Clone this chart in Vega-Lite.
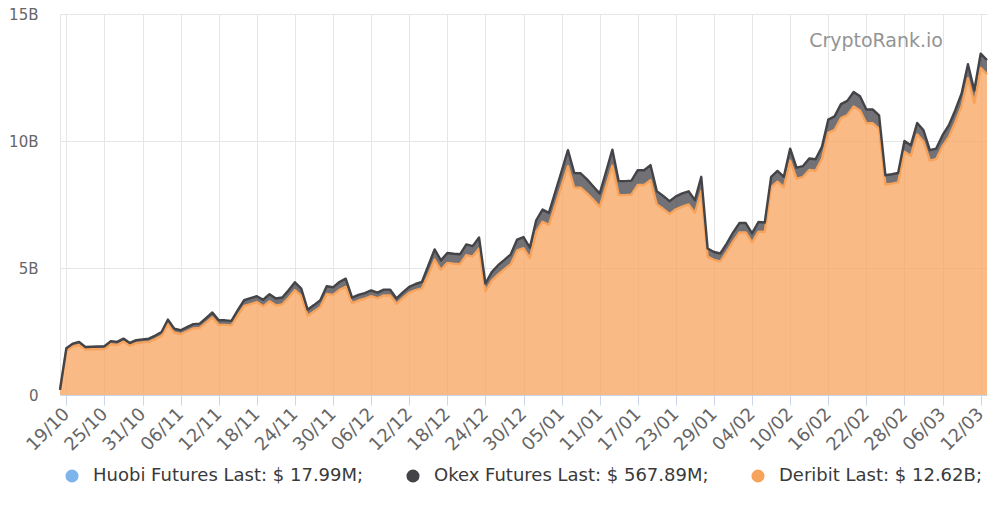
{
  "$schema": "https://vega.github.io/schema/vega-lite/v6.json",
  "width": 927,
  "height": 381,
  "autosize": {"type": "none"},
  "padding": {"left": 60, "top": 14, "right": 7, "bottom": 110},
  "background": "#ffffff",
  "title": {
    "text": "CryptoRank.io",
    "anchor": "end",
    "frame": "group",
    "offset": 0,
    "dx": -44,
    "dy": 59,
    "baseline": "alphabetic",
    "font": "DejaVu Sans",
    "fontSize": 19,
    "fontWeight": "normal",
    "color": "#949494"
  },
  "config": {
    "view": {"stroke": null},
    "axis": {"labelFont": "DejaVu Sans", "labelFontSize": 15, "labelColor": "#666666", "gridColor": "#e6e6e6", "title": null},
    "legend": {"labelFont": "DejaVu Sans"}
  },
  "data": {
    "values": [
      {"date": "2020-10-18", "Deribit": 0.2},
      {"date": "2020-10-19", "Huobi Futures": 0.015, "Okex Futures": 0.10, "Deribit": 1.74},
      {"date": "2020-10-20", "Huobi Futures": 0.015, "Okex Futures": 0.11, "Deribit": 1.91},
      {"date": "2020-10-21", "Huobi Futures": 0.015, "Okex Futures": 0.12, "Deribit": 1.97},
      {"date": "2020-10-22", "Huobi Futures": 0.015, "Okex Futures": 0.10, "Deribit": 1.79},
      {"date": "2020-10-23", "Huobi Futures": 0.015, "Okex Futures": 0.10, "Deribit": 1.80},
      {"date": "2020-10-24", "Huobi Futures": 0.015, "Okex Futures": 0.11, "Deribit": 1.80},
      {"date": "2020-10-25", "Huobi Futures": 0.015, "Okex Futures": 0.11, "Deribit": 1.81},
      {"date": "2020-10-26", "Huobi Futures": 0.015, "Okex Futures": 0.12, "Deribit": 2.00},
      {"date": "2020-10-27", "Huobi Futures": 0.015, "Okex Futures": 0.12, "Deribit": 1.97},
      {"date": "2020-10-28", "Huobi Futures": 0.015, "Okex Futures": 0.12, "Deribit": 2.10},
      {"date": "2020-10-29", "Huobi Futures": 0.015, "Okex Futures": 0.11, "Deribit": 1.94},
      {"date": "2020-10-30", "Huobi Futures": 0.015, "Okex Futures": 0.12, "Deribit": 2.04},
      {"date": "2020-10-31", "Huobi Futures": 0.015, "Okex Futures": 0.12, "Deribit": 2.07},
      {"date": "2020-11-01", "Huobi Futures": 0.015, "Okex Futures": 0.13, "Deribit": 2.09},
      {"date": "2020-11-02", "Huobi Futures": 0.015, "Okex Futures": 0.14, "Deribit": 2.20},
      {"date": "2020-11-03", "Huobi Futures": 0.015, "Okex Futures": 0.15, "Deribit": 2.33},
      {"date": "2020-11-04", "Huobi Futures": 0.015, "Okex Futures": 0.18, "Deribit": 2.79},
      {"date": "2020-11-05", "Huobi Futures": 0.015, "Okex Futures": 0.16, "Deribit": 2.45},
      {"date": "2020-11-06", "Huobi Futures": 0.015, "Okex Futures": 0.15, "Deribit": 2.40},
      {"date": "2020-11-07", "Huobi Futures": 0.015, "Okex Futures": 0.16, "Deribit": 2.51},
      {"date": "2020-11-08", "Huobi Futures": 0.015, "Okex Futures": 0.17, "Deribit": 2.62},
      {"date": "2020-11-09", "Huobi Futures": 0.015, "Okex Futures": 0.17, "Deribit": 2.64},
      {"date": "2020-11-10", "Huobi Futures": 0.015, "Okex Futures": 0.18, "Deribit": 2.85},
      {"date": "2020-11-11", "Huobi Futures": 0.015, "Okex Futures": 0.20, "Deribit": 3.05},
      {"date": "2020-11-12", "Huobi Futures": 0.015, "Okex Futures": 0.18, "Deribit": 2.76},
      {"date": "2020-11-13", "Huobi Futures": 0.015, "Okex Futures": 0.18, "Deribit": 2.76},
      {"date": "2020-11-14", "Huobi Futures": 0.015, "Okex Futures": 0.18, "Deribit": 2.74},
      {"date": "2020-11-15", "Huobi Futures": 0.015, "Okex Futures": 0.20, "Deribit": 3.14},
      {"date": "2020-11-16", "Huobi Futures": 0.015, "Okex Futures": 0.22, "Deribit": 3.51},
      {"date": "2020-11-17", "Huobi Futures": 0.015, "Okex Futures": 0.23, "Deribit": 3.58},
      {"date": "2020-11-18", "Huobi Futures": 0.015, "Okex Futures": 0.23, "Deribit": 3.66},
      {"date": "2020-11-19", "Huobi Futures": 0.015, "Okex Futures": 0.26, "Deribit": 3.49},
      {"date": "2020-11-20", "Huobi Futures": 0.015, "Okex Futures": 0.28, "Deribit": 3.69},
      {"date": "2020-11-21", "Huobi Futures": 0.015, "Okex Futures": 0.27, "Deribit": 3.53},
      {"date": "2020-11-22", "Huobi Futures": 0.015, "Okex Futures": 0.27, "Deribit": 3.57},
      {"date": "2020-11-23", "Huobi Futures": 0.015, "Okex Futures": 0.29, "Deribit": 3.83},
      {"date": "2020-11-24", "Huobi Futures": 0.015, "Okex Futures": 0.31, "Deribit": 4.13},
      {"date": "2020-11-25", "Huobi Futures": 0.015, "Okex Futures": 0.29, "Deribit": 3.90},
      {"date": "2020-11-26", "Huobi Futures": 0.015, "Okex Futures": 0.24, "Deribit": 3.12},
      {"date": "2020-11-27", "Huobi Futures": 0.015, "Okex Futures": 0.25, "Deribit": 3.29},
      {"date": "2020-11-28", "Huobi Futures": 0.015, "Okex Futures": 0.26, "Deribit": 3.47},
      {"date": "2020-11-29", "Huobi Futures": 0.015, "Okex Futures": 0.30, "Deribit": 3.98},
      {"date": "2020-11-30", "Huobi Futures": 0.015, "Okex Futures": 0.30, "Deribit": 3.94},
      {"date": "2020-12-01", "Huobi Futures": 0.015, "Okex Futures": 0.31, "Deribit": 4.14},
      {"date": "2020-12-02", "Huobi Futures": 0.015, "Okex Futures": 0.32, "Deribit": 4.26},
      {"date": "2020-12-03", "Huobi Futures": 0.015, "Okex Futures": 0.21, "Deribit": 3.62},
      {"date": "2020-12-04", "Huobi Futures": 0.015, "Okex Futures": 0.22, "Deribit": 3.72},
      {"date": "2020-12-05", "Huobi Futures": 0.015, "Okex Futures": 0.22, "Deribit": 3.79},
      {"date": "2020-12-06", "Huobi Futures": 0.015, "Okex Futures": 0.23, "Deribit": 3.89},
      {"date": "2020-12-07", "Huobi Futures": 0.015, "Okex Futures": 0.22, "Deribit": 3.81},
      {"date": "2020-12-08", "Huobi Futures": 0.015, "Okex Futures": 0.23, "Deribit": 3.92},
      {"date": "2020-12-09", "Huobi Futures": 0.015, "Okex Futures": 0.23, "Deribit": 3.92},
      {"date": "2020-12-10", "Huobi Futures": 0.015, "Okex Futures": 0.21, "Deribit": 3.59},
      {"date": "2020-12-11", "Huobi Futures": 0.015, "Okex Futures": 0.22, "Deribit": 3.82},
      {"date": "2020-12-12", "Huobi Futures": 0.015, "Okex Futures": 0.23, "Deribit": 4.03},
      {"date": "2020-12-13", "Huobi Futures": 0.015, "Okex Futures": 0.24, "Deribit": 4.13},
      {"date": "2020-12-14", "Huobi Futures": 0.015, "Okex Futures": 0.25, "Deribit": 4.20},
      {"date": "2020-12-15", "Huobi Futures": 0.015, "Okex Futures": 0.36, "Deribit": 4.73},
      {"date": "2020-12-16", "Huobi Futures": 0.015, "Okex Futures": 0.40, "Deribit": 5.33},
      {"date": "2020-12-17", "Huobi Futures": 0.015, "Okex Futures": 0.37, "Deribit": 4.93},
      {"date": "2020-12-18", "Huobi Futures": 0.015, "Okex Futures": 0.39, "Deribit": 5.20},
      {"date": "2020-12-19", "Huobi Futures": 0.015, "Okex Futures": 0.39, "Deribit": 5.17},
      {"date": "2020-12-20", "Huobi Futures": 0.015, "Okex Futures": 0.39, "Deribit": 5.15},
      {"date": "2020-12-21", "Huobi Futures": 0.015, "Okex Futures": 0.42, "Deribit": 5.51},
      {"date": "2020-12-22", "Huobi Futures": 0.015, "Okex Futures": 0.41, "Deribit": 5.45},
      {"date": "2020-12-23", "Huobi Futures": 0.015, "Okex Futures": 0.43, "Deribit": 5.77},
      {"date": "2020-12-24", "Huobi Futures": 0.015, "Okex Futures": 0.31, "Deribit": 4.08},
      {"date": "2020-12-25", "Huobi Futures": 0.015, "Okex Futures": 0.34, "Deribit": 4.50},
      {"date": "2020-12-26", "Huobi Futures": 0.015, "Okex Futures": 0.36, "Deribit": 4.75},
      {"date": "2020-12-27", "Huobi Futures": 0.015, "Okex Futures": 0.37, "Deribit": 4.95},
      {"date": "2020-12-28", "Huobi Futures": 0.015, "Okex Futures": 0.39, "Deribit": 5.15},
      {"date": "2020-12-29", "Huobi Futures": 0.015, "Okex Futures": 0.43, "Deribit": 5.69},
      {"date": "2020-12-30", "Huobi Futures": 0.015, "Okex Futures": 0.44, "Deribit": 5.78},
      {"date": "2020-12-31", "Huobi Futures": 0.015, "Okex Futures": 0.41, "Deribit": 5.39},
      {"date": "2021-01-01", "Huobi Futures": 0.015, "Okex Futures": 0.45, "Deribit": 6.43},
      {"date": "2021-01-02", "Huobi Futures": 0.015, "Okex Futures": 0.48, "Deribit": 6.82},
      {"date": "2021-01-03", "Huobi Futures": 0.015, "Okex Futures": 0.47, "Deribit": 6.70},
      {"date": "2021-01-04", "Huobi Futures": 0.015, "Okex Futures": 0.52, "Deribit": 7.47},
      {"date": "2021-01-05", "Huobi Futures": 0.015, "Okex Futures": 0.57, "Deribit": 8.24},
      {"date": "2021-01-06", "Huobi Futures": 0.015, "Okex Futures": 0.63, "Deribit": 9.01},
      {"date": "2021-01-07", "Huobi Futures": 0.015, "Okex Futures": 0.57, "Deribit": 8.17},
      {"date": "2021-01-08", "Huobi Futures": 0.015, "Okex Futures": 0.57, "Deribit": 8.16},
      {"date": "2021-01-09", "Huobi Futures": 0.015, "Okex Futures": 0.55, "Deribit": 7.94},
      {"date": "2021-01-10", "Huobi Futures": 0.015, "Okex Futures": 0.53, "Deribit": 7.68},
      {"date": "2021-01-11", "Huobi Futures": 0.015, "Okex Futures": 0.52, "Deribit": 7.41},
      {"date": "2021-01-12", "Huobi Futures": 0.015, "Okex Futures": 0.57, "Deribit": 8.22},
      {"date": "2021-01-13", "Huobi Futures": 0.015, "Okex Futures": 0.63, "Deribit": 9.03},
      {"date": "2021-01-14", "Huobi Futures": 0.015, "Okex Futures": 0.55, "Deribit": 7.87},
      {"date": "2021-01-15", "Huobi Futures": 0.015, "Okex Futures": 0.55, "Deribit": 7.87},
      {"date": "2021-01-16", "Huobi Futures": 0.015, "Okex Futures": 0.55, "Deribit": 7.89},
      {"date": "2021-01-17", "Huobi Futures": 0.015, "Okex Futures": 0.58, "Deribit": 8.27},
      {"date": "2021-01-18", "Huobi Futures": 0.015, "Okex Futures": 0.58, "Deribit": 8.27},
      {"date": "2021-01-19", "Huobi Futures": 0.015, "Okex Futures": 0.59, "Deribit": 8.46},
      {"date": "2021-01-20", "Huobi Futures": 0.015, "Okex Futures": 0.52, "Deribit": 7.50},
      {"date": "2021-01-21", "Huobi Futures": 0.015, "Okex Futures": 0.51, "Deribit": 7.33},
      {"date": "2021-01-22", "Huobi Futures": 0.015, "Okex Futures": 0.50, "Deribit": 7.13},
      {"date": "2021-01-23", "Huobi Futures": 0.015, "Okex Futures": 0.51, "Deribit": 7.31},
      {"date": "2021-01-24", "Huobi Futures": 0.015, "Okex Futures": 0.52, "Deribit": 7.42},
      {"date": "2021-01-25", "Huobi Futures": 0.015, "Okex Futures": 0.52, "Deribit": 7.50},
      {"date": "2021-01-26", "Huobi Futures": 0.015, "Okex Futures": 0.50, "Deribit": 7.17},
      {"date": "2021-01-27", "Huobi Futures": 0.015, "Okex Futures": 0.56, "Deribit": 8.03},
      {"date": "2021-01-28", "Huobi Futures": 0.015, "Okex Futures": 0.32, "Deribit": 5.45},
      {"date": "2021-01-29", "Huobi Futures": 0.015, "Okex Futures": 0.31, "Deribit": 5.32},
      {"date": "2021-01-30", "Huobi Futures": 0.015, "Okex Futures": 0.31, "Deribit": 5.26},
      {"date": "2021-01-31", "Huobi Futures": 0.015, "Okex Futures": 0.33, "Deribit": 5.63},
      {"date": "2021-02-01", "Huobi Futures": 0.015, "Okex Futures": 0.35, "Deribit": 6.04},
      {"date": "2021-02-02", "Huobi Futures": 0.015, "Okex Futures": 0.37, "Deribit": 6.40},
      {"date": "2021-02-03", "Huobi Futures": 0.015, "Okex Futures": 0.37, "Deribit": 6.40},
      {"date": "2021-02-04", "Huobi Futures": 0.015, "Okex Futures": 0.35, "Deribit": 6.01},
      {"date": "2021-02-05", "Huobi Futures": 0.015, "Okex Futures": 0.38, "Deribit": 6.43},
      {"date": "2021-02-06", "Huobi Futures": 0.015, "Okex Futures": 0.37, "Deribit": 6.42},
      {"date": "2021-02-07", "Huobi Futures": 0.015, "Okex Futures": 0.41, "Deribit": 8.18},
      {"date": "2021-02-08", "Huobi Futures": 0.015, "Okex Futures": 0.42, "Deribit": 8.40},
      {"date": "2021-02-09", "Huobi Futures": 0.015, "Okex Futures": 0.41, "Deribit": 8.18},
      {"date": "2021-02-10", "Huobi Futures": 0.015, "Okex Futures": 0.47, "Deribit": 9.23},
      {"date": "2021-02-11", "Huobi Futures": 0.015, "Okex Futures": 0.43, "Deribit": 8.52},
      {"date": "2021-02-12", "Huobi Futures": 0.015, "Okex Futures": 0.43, "Deribit": 8.58},
      {"date": "2021-02-13", "Huobi Futures": 0.015, "Okex Futures": 0.45, "Deribit": 8.86},
      {"date": "2021-02-14", "Huobi Futures": 0.015, "Okex Futures": 0.45, "Deribit": 8.83},
      {"date": "2021-02-15", "Huobi Futures": 0.015, "Okex Futures": 0.47, "Deribit": 9.30},
      {"date": "2021-02-16", "Huobi Futures": 0.015, "Okex Futures": 0.52, "Deribit": 10.32},
      {"date": "2021-02-17", "Huobi Futures": 0.015, "Okex Futures": 0.53, "Deribit": 10.44},
      {"date": "2021-02-18", "Huobi Futures": 0.015, "Okex Futures": 0.55, "Deribit": 10.90},
      {"date": "2021-02-19", "Huobi Futures": 0.015, "Okex Futures": 0.56, "Deribit": 11.02},
      {"date": "2021-02-20", "Huobi Futures": 0.015, "Okex Futures": 0.57, "Deribit": 11.36},
      {"date": "2021-02-21", "Huobi Futures": 0.015, "Okex Futures": 0.56, "Deribit": 11.20},
      {"date": "2021-02-22", "Huobi Futures": 0.015, "Okex Futures": 0.54, "Deribit": 10.70},
      {"date": "2021-02-23", "Huobi Futures": 0.015, "Okex Futures": 0.54, "Deribit": 10.70},
      {"date": "2021-02-24", "Huobi Futures": 0.015, "Okex Futures": 0.53, "Deribit": 10.48},
      {"date": "2021-02-25", "Huobi Futures": 0.015, "Okex Futures": 0.36, "Deribit": 8.29},
      {"date": "2021-02-26", "Huobi Futures": 0.015, "Okex Futures": 0.37, "Deribit": 8.32},
      {"date": "2021-02-27", "Huobi Futures": 0.015, "Okex Futures": 0.37, "Deribit": 8.37},
      {"date": "2021-02-28", "Huobi Futures": 0.015, "Okex Futures": 0.42, "Deribit": 9.58},
      {"date": "2021-03-01", "Huobi Futures": 0.015, "Okex Futures": 0.41, "Deribit": 9.42},
      {"date": "2021-03-02", "Huobi Futures": 0.015, "Okex Futures": 0.45, "Deribit": 10.26},
      {"date": "2021-03-03", "Huobi Futures": 0.015, "Okex Futures": 0.44, "Deribit": 9.98},
      {"date": "2021-03-04", "Huobi Futures": 0.015, "Okex Futures": 0.41, "Deribit": 9.23},
      {"date": "2021-03-05", "Huobi Futures": 0.015, "Okex Futures": 0.41, "Deribit": 9.29},
      {"date": "2021-03-06", "Huobi Futures": 0.015, "Okex Futures": 0.43, "Deribit": 9.80},
      {"date": "2021-03-07", "Huobi Futures": 0.015, "Okex Futures": 0.45, "Deribit": 10.17},
      {"date": "2021-03-08", "Huobi Futures": 0.015, "Okex Futures": 0.47, "Deribit": 10.74},
      {"date": "2021-03-09", "Huobi Futures": 0.015, "Okex Futures": 0.50, "Deribit": 11.37},
      {"date": "2021-03-10", "Huobi Futures": 0.015, "Okex Futures": 0.55, "Deribit": 12.47},
      {"date": "2021-03-11", "Huobi Futures": 0.015, "Okex Futures": 0.50, "Deribit": 11.49},
      {"date": "2021-03-12", "Huobi Futures": 0.015, "Okex Futures": 0.56, "Deribit": 12.88},
      {"date": "2021-03-13", "Huobi Futures": 0.018, "Okex Futures": 0.568, "Deribit": 12.62}
    ]
  },
  "transform": [
    {"fold": ["Huobi Futures", "Okex Futures", "Deribit"], "as": ["series", "value"]},
    {"filter": "isValid(datum.value)"}
  ],
  "encoding": {
    "x": {
      "field": "date",
      "type": "temporal",
      "scale": {"type": "utc", "nice": false},
      "axis": {
        "values": [
          {"year": 2020, "month": 10, "date": 19, "utc": true},
          {"year": 2020, "month": 10, "date": 25, "utc": true},
          {"year": 2020, "month": 10, "date": 31, "utc": true},
          {"year": 2020, "month": 11, "date": 6, "utc": true},
          {"year": 2020, "month": 11, "date": 12, "utc": true},
          {"year": 2020, "month": 11, "date": 18, "utc": true},
          {"year": 2020, "month": 11, "date": 24, "utc": true},
          {"year": 2020, "month": 11, "date": 30, "utc": true},
          {"year": 2020, "month": 12, "date": 6, "utc": true},
          {"year": 2020, "month": 12, "date": 12, "utc": true},
          {"year": 2020, "month": 12, "date": 18, "utc": true},
          {"year": 2020, "month": 12, "date": 24, "utc": true},
          {"year": 2020, "month": 12, "date": 30, "utc": true},
          {"year": 2021, "month": 1, "date": 5, "utc": true},
          {"year": 2021, "month": 1, "date": 11, "utc": true},
          {"year": 2021, "month": 1, "date": 17, "utc": true},
          {"year": 2021, "month": 1, "date": 23, "utc": true},
          {"year": 2021, "month": 1, "date": 29, "utc": true},
          {"year": 2021, "month": 2, "date": 4, "utc": true},
          {"year": 2021, "month": 2, "date": 10, "utc": true},
          {"year": 2021, "month": 2, "date": 16, "utc": true},
          {"year": 2021, "month": 2, "date": 22, "utc": true},
          {"year": 2021, "month": 2, "date": 28, "utc": true},
          {"year": 2021, "month": 3, "date": 6, "utc": true},
          {"year": 2021, "month": 3, "date": 12, "utc": true}
        ],
        "format": "%d/%m",
        "labelAngle": -45,
        "labelAlign": "right",
        "labelBaseline": "middle",
        "labelFontSize": 18,
        "labelPadding": 6,
        "labelOverlap": false,
        "labelFlush": false,
        "grid": true,
        "domainColor": "#ccd6eb",
        "tickColor": "#ccd6eb",
        "tickSize": 10
      }
    },
    "y": {
      "field": "value",
      "type": "quantitative",
      "stack": "zero",
      "scale": {"domain": [0, 15], "nice": false},
      "axis": {
        "values": [0, 5, 10, 15],
        "labelExpr": "datum.value == 0 ? '0' : datum.value + 'B'",
        "ticks": false,
        "domain": true,
        "domainColor": "#e6e6e6",
        "labelPadding": 22
      }
    },
    "color": {
      "field": "series",
      "type": "nominal",
      "scale": {
        "domain": ["Huobi Futures", "Okex Futures", "Deribit"],
        "range": ["#7cb5ec", "#434348", "#f7a35c"]
      },
      "legend": {
        "orient": "none",
        "legendX": 3,
        "legendY": 453,
        "direction": "horizontal",
        "title": null,
        "symbolType": "circle",
        "symbolSize": 170,
        "symbolOpacity": 1,
        "symbolStrokeWidth": 0,
        "labelFontSize": 18,
        "labelColor": "#3a3a3a",
        "labelOffset": 12,
        "labelLimit": 500,
        "columnPadding": 40,
        "labelExpr": "datum.label == 'Huobi Futures' ? 'Huobi Futures Last: $ 17.99M;' : datum.label == 'Okex Futures' ? 'Okex Futures Last: $ 567.89M;' : 'Deribit Last: $ 12.62B;'"
      }
    },
    "order": {"field": "series", "sort": "ascending"}
  },
  "layer": [
    {
      "mark": {"type": "area", "fillOpacity": 0.75, "strokeWidth": 0}
    },
    {
      "transform": [{"filter": "datum.series != 'Huobi Futures'"}],
      "mark": {"type": "line", "strokeWidth": 2.4, "strokeJoin": "round"}
    }
  ]
}
